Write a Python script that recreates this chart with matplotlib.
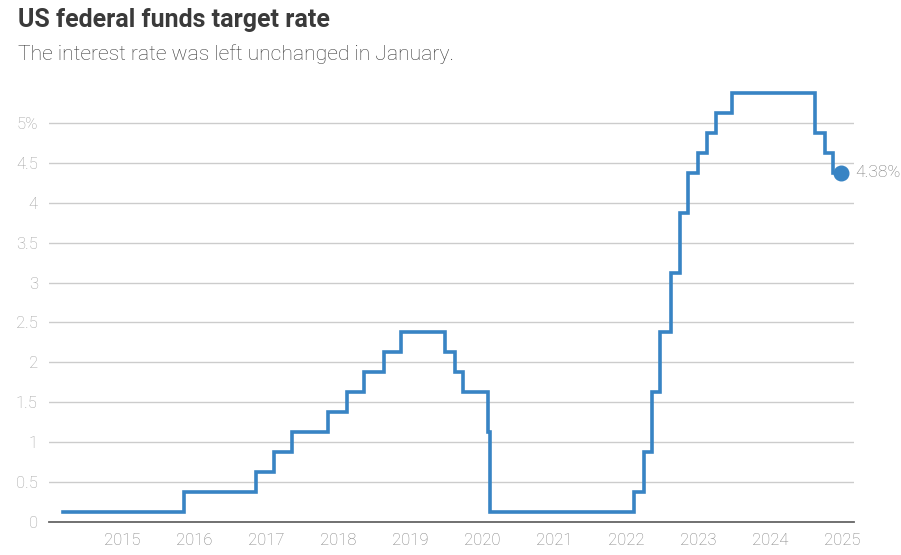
import pandas as pd
import matplotlib
matplotlib.use("Agg")
import matplotlib.pyplot as plt
import matplotlib.transforms as mtransforms

# Fed decisions: date the target range changed and the midpoint of the range
change_dates = [
    "2014-04-10", "2015-12-17", "2016-12-15", "2017-03-16", "2017-06-15",
    "2017-12-14", "2018-03-22", "2018-06-14", "2018-09-27", "2018-12-20",
    "2019-08-01", "2019-09-19", "2019-10-31", "2020-03-04", "2020-03-16",
    "2022-03-17", "2022-05-05", "2022-06-16", "2022-07-28", "2022-09-22",
    "2022-11-03", "2022-12-15", "2023-02-02", "2023-03-23", "2023-05-04",
    "2023-07-27", "2024-09-19", "2024-11-08", "2024-12-19", "2025-01-29",
]
rates = [
    0.125, 0.375, 0.625, 0.875, 1.125,
    1.375, 1.625, 1.875, 2.125, 2.375,
    2.125, 1.875, 1.625, 1.125, 0.125,
    0.375, 0.875, 1.625, 2.375, 3.125,
    3.875, 4.375, 4.625, 4.875, 5.125,
    5.375, 4.875, 4.625, 4.375, 4.375,
]
years = list(range(2015, 2026))
y_ticks = [0, 0.5, 1, 1.5, 2, 2.5, 3, 3.5, 4, 4.5, 5]
y_labels = ["0", "0.5", "1", "1.5", "2", "2.5", "3", "3.5", "4", "4.5", "5%"]
last_label = "4.38%"

LINE = "#3884c4"
FONT = ["Roboto", "DejaVu Sans"]

plt.rcParams["font.family"] = FONT

dates = pd.to_datetime(change_dates)

W, H = 901, 555
fig = plt.figure(figsize=(W / 100, H / 100), dpi=100)
# axes box in pixels: left 49, right 854, bottom 522, top 83
ax = fig.add_axes([49 / W, 1 - 522 / H, (854 - 49) / W, (522 - 83) / H])

ax.plot(dates, rates, drawstyle="steps-post", color=LINE, lw=2.6,
        solid_joinstyle="miter", zorder=3)
ax.plot(dates[-1:], rates[-1:], "o", color=LINE, ms=10.5, zorder=4)
ax.annotate(last_label, (dates[-1], rates[-1]), xytext=(10, 0),
            textcoords="offset points", va="center", ha="left",
            fontsize=12.5, color="#7a7a7a", fontweight="light",
            annotation_clip=False)

ax.set_xlim(pd.Timestamp("2014-01-30"), pd.Timestamp("2025-04-05"))
ax.set_ylim(0, 5.5)

ax.set_yticks(y_ticks)
ax.set_yticklabels(y_labels)
ax.set_xticks([pd.Timestamp(f"{y}-01-01") for y in years])
ax.set_xticklabels([str(y) for y in years])

ax.grid(axis="y", color="#cccccc", lw=1)
ax.set_axisbelow(True)
for s in ["top", "right", "left"]:
    ax.spines[s].set_visible(False)
ax.spines["bottom"].set_color("#666666")
ax.spines["bottom"].set_linewidth(1.3)
ax.spines["bottom"].set_zorder(2)

ax.tick_params(axis="both", length=0, labelsize=12, labelcolor="#a0a0a0")
ax.tick_params(axis="y", pad=8)
ax.tick_params(axis="x", pad=8, labelcolor="#808080")
shift = mtransforms.ScaledTranslation(7 / 100, 0, fig.dpi_scale_trans)
for lab in ax.get_xticklabels():
    lab.set_transform(lab.get_transform() + shift)
for lab in ax.get_xticklabels() + ax.get_yticklabels():
    lab.set_fontweight("light")

fig.text(18 / W, 1 - 27.3 / H, "US federal funds target rate",
         fontsize=18, fontweight="bold", color="#3a3a3a", va="baseline")
fig.text(18 / W, 1 - 60.5 / H, "The interest rate was left unchanged in January.",
         fontsize=15.2, fontweight="light", color="#383838", va="baseline")

fig.savefig("out.png", dpi=100)
